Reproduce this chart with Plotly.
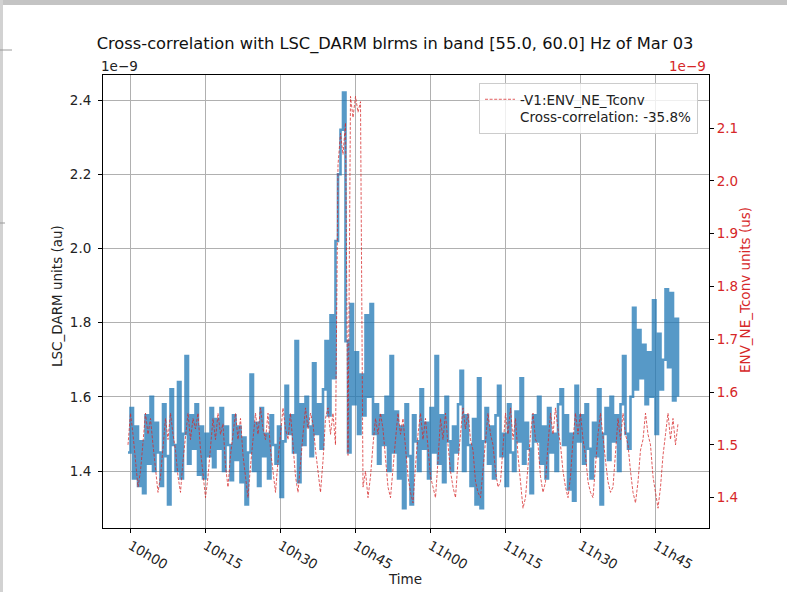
import pandas as pd
import plotly.graph_objects as go

# ---------------- data (values in units of 1e-9) ----------------
start_time = "2021-03-03 09:59:30"
sample_step = "30s"

darm_blrms = [
    1.45, 1.57, 1.38, 1.52, 1.36, 1.48, 1.34, 1.55, 1.42, 1.60,
    1.40, 1.53, 1.45, 1.36, 1.58, 1.44, 1.31, 1.62, 1.47, 1.40,
    1.64, 1.38, 1.50, 1.71, 1.42, 1.55, 1.46, 1.58, 1.39, 1.52,
    1.38, 1.50, 1.44, 1.57, 1.41, 1.54, 1.46, 1.57, 1.40, 1.52,
    1.47, 1.375, 1.55, 1.43, 1.52, 1.37, 1.49, 1.31, 1.45, 1.66,
    1.40, 1.53, 1.36, 1.57, 1.44, 1.50, 1.38, 1.55, 1.47, 1.42,
    1.52, 1.33, 1.48, 1.63, 1.50, 1.55, 1.45, 1.75, 1.37, 1.58,
    1.47, 1.60, 1.52, 1.44, 1.69, 1.50, 1.58, 1.46, 1.62, 1.75,
    1.55, 1.82, 1.65, 2.02, 2.20, 2.32, 2.42, 1.75, 1.45, 1.85,
    1.58, 1.72, 1.50, 1.66, 1.55, 1.82, 1.60, 1.85, 1.50, 1.58,
    1.42, 1.55, 1.47, 1.60, 1.40, 1.71, 1.45, 1.56, 1.38, 1.52,
    1.30, 1.58, 1.44, 1.31, 1.55, 1.48, 1.40, 1.62, 1.46, 1.53,
    1.38, 1.57, 1.45, 1.71, 1.42, 1.55, 1.37, 1.60, 1.48, 1.40,
    1.52, 1.45, 1.58, 1.67, 1.40, 1.55, 1.47, 1.36, 1.54, 1.31,
    1.65, 1.30, 1.48, 1.57, 1.42, 1.52, 1.38, 1.55, 1.63, 1.44,
    1.50, 1.36, 1.58, 1.45, 1.40, 1.56, 1.48, 1.65, 1.42, 1.53,
    1.46, 1.34, 1.55, 1.48, 1.60, 1.42, 1.52, 1.38, 1.57, 1.45,
    1.50, 1.40, 1.58, 1.62, 1.47, 1.55, 1.35, 1.50, 1.32, 1.63,
    1.48, 1.55, 1.42, 1.58, 1.46, 1.38, 1.53, 1.44, 1.62, 1.31,
    1.50, 1.57, 1.43, 1.60, 1.48, 1.55, 1.40, 1.58, 1.71, 1.50,
    1.46, 1.60, 1.84, 1.62, 1.78, 1.65, 1.74, 1.58, 1.72, 1.60,
    1.86, 1.50, 1.77, 1.62, 1.70, 1.89, 1.68, 1.88, 1.59, 1.81, 1.60,
]

env_tconv = [
    1.50, 1.56, 1.52, 1.47, 1.42, 1.45, 1.51, 1.56, 1.52, 1.55,
    1.50, 1.46, 1.41, 1.44, 1.49, 1.55, 1.51, 1.56, 1.52, 1.49,
    1.44, 1.41, 1.47, 1.52, 1.56, 1.51, 1.55, 1.53, 1.56, 1.49,
    1.44, 1.40, 1.44, 1.49, 1.55, 1.51, 1.56, 1.52, 1.54, 1.46,
    1.42, 1.48, 1.52, 1.56, 1.51, 1.55, 1.48, 1.44, 1.40, 1.46,
    1.51, 1.56, 1.52, 1.57, 1.53, 1.51, 1.56, 1.49, 1.45, 1.41,
    1.47, 1.52, 1.57, 1.53, 1.51, 1.56, 1.49, 1.44, 1.41, 1.47,
    1.52, 1.57, 1.53, 1.56, 1.54, 1.49, 1.45, 1.41, 1.47, 1.55,
    1.57, 1.52, 1.56, 1.50, 2.03, 2.09, 2.05, 2.11, 1.48, 2.16,
    2.12, 2.16, 2.13, 2.15, 1.42, 1.45, 1.40, 1.44, 1.50, 1.55,
    1.52, 1.56, 1.53, 1.47, 1.42, 1.40, 1.46, 1.51, 1.56, 1.52,
    1.55, 1.49, 1.44, 1.41, 1.39, 1.46, 1.52, 1.56, 1.51, 1.55,
    1.49, 1.44, 1.42, 1.40, 1.47, 1.55, 1.51, 1.56, 1.50, 1.45,
    1.42, 1.40, 1.47, 1.52, 1.57, 1.53, 1.56, 1.51, 1.49, 1.43,
    1.41, 1.40, 1.45, 1.51, 1.56, 1.52, 1.50, 1.45, 1.42, 1.43,
    1.50, 1.56, 1.52, 1.57, 1.51, 1.55, 1.48, 1.43, 1.38, 1.40,
    1.46, 1.52, 1.56, 1.51, 1.50, 1.44, 1.41, 1.43, 1.50, 1.56,
    1.52, 1.57, 1.53, 1.50, 1.45, 1.42, 1.40, 1.44, 1.51, 1.56,
    1.52, 1.56, 1.51, 1.48, 1.43, 1.41, 1.40, 1.46, 1.52, 1.56,
    1.51, 1.47, 1.43, 1.41, 1.42, 1.48, 1.55, 1.51, 1.56, 1.52,
    1.50, 1.45, 1.41, 1.39, 1.43, 1.49, 1.51, 1.56, 1.52, 1.50,
    1.44, 1.41, 1.38, 1.42, 1.48, 1.52, 1.56, 1.51, 1.55, 1.50, 1.54,
]

x_tick_times = ["10:00", "10:15", "10:30", "10:45", "11:00", "11:15", "11:30", "11:45"]
x_tick_labels = ["10h00", "10h15", "10h30", "10h45", "11h00", "11h15", "11h30", "11h45"]
left_ticks = [1.4, 1.6, 1.8, 2.0, 2.2, 2.4]
right_ticks = [1.4, 1.5, 1.6, 1.7, 1.8, 1.9, 2.0, 2.1]

title_text = "Cross-correlation with LSC_DARM blrms in band [55.0, 60.0] Hz of Mar 03"
legend_name = "-V1:ENV_NE_Tconv<br>Cross-correlation: -35.8%"

# ---------------- figure ----------------
times = pd.date_range(start_time, periods=len(darm_blrms), freq=sample_step)
day = "2021-03-03 "
RED = "#d62728"
FONT = "DejaVu Sans"
FS = 13.5

fig = go.Figure()
fig.add_trace(go.Scatter(
    x=times, y=darm_blrms, mode="lines", yaxis="y", showlegend=False,
    line=dict(color="rgba(31,119,180,0.75)", width=2.6, shape="hv"),
))
fig.add_trace(go.Scatter(
    x=times[:len(env_tconv)], y=env_tconv, mode="lines", yaxis="y2", name=legend_name,
    line=dict(color="rgba(214,39,40,0.75)", width=1, dash="3px,1.6px"),
))

W, H = 787, 592
L, R, T, B = 103, 709, 75, 528
pw, ph = R - L, B - T

def px(xp):
    return (xp - L) / pw

def py(yp):
    return (B - yp) / ph

fig.update_layout(
    width=W, height=H,
    margin=dict(l=L, r=W - R, t=T, b=H - B),
    paper_bgcolor="white", plot_bgcolor="white",
    font=dict(family=FONT, size=FS, color="#222"),
    title=dict(text=title_text, x=395 / W, xref="container", xanchor="center",
               y=1 - 43 / H, yref="container", yanchor="middle",
               font=dict(size=16.3, color="#111")),
    xaxis=dict(
        range=[day + "09:54:30", day + "11:55:42"],
        tickvals=[day + t for t in x_tick_times], ticktext=x_tick_labels,
        tickangle=30, ticks="outside", ticklen=4, tickcolor="black", tickwidth=0.8,
        showgrid=True, gridcolor="#b0b0b0", gridwidth=0.8,
        showline=True, linecolor="black", linewidth=1, mirror=True,
        zeroline=False, tickfont=dict(size=FS),
    ),
    yaxis=dict(
        range=[1.2464, 2.4674], tickvals=left_ticks, tickformat=".1f",
        ticks="outside", ticklen=4, tickcolor="black", tickwidth=0.8,
        showgrid=True, gridcolor="#b0b0b0", gridwidth=0.8,
        showline=True, linecolor="black", linewidth=1, mirror=True,
        zeroline=False, tickfont=dict(size=FS), ticklabelstandoff=4,
    ),
    yaxis2=dict(
        range=[1.3425, 2.2006], tickvals=right_ticks, tickformat=".1f",
        overlaying="y", side="right", anchor="x",
        ticks="outside", ticklen=4, tickcolor="black", tickwidth=0.8,
        showgrid=False, zeroline=False, showline=True, linecolor="black", linewidth=1,
        tickfont=dict(size=FS, color=RED),
    ),
    legend=dict(
        x=px(479), y=py(83), xanchor="left", yanchor="top", valign="top",
        bgcolor="rgba(255,255,255,0.8)", bordercolor="#cccccc", borderwidth=1,
        font=dict(size=FS, color="#222"),
    ),
)

annotations = [
    dict(text="1e\u22129", x=px(99), y=py(66), xanchor="left", yanchor="middle",
         font=dict(size=FS, color="#222")),
    dict(text="1e\u22129", x=px(708), y=py(66), xanchor="right", yanchor="middle",
         font=dict(size=FS, color=RED)),
    dict(text="LSC_DARM units (au)", x=px(57), y=py(296), textangle=-90,
         xanchor="center", yanchor="middle", font=dict(size=FS, color="#222")),
    dict(text="ENV_NE_Tconv units (us)", x=px(745), y=py(290), textangle=-90,
         xanchor="center", yanchor="middle", font=dict(size=FS, color=RED)),
    dict(text="Time", x=px(405), y=py(579), xanchor="center", yanchor="middle",
         font=dict(size=FS, color="#222")),
]
for a in annotations:
    a.update(xref="paper", yref="paper", showarrow=False)
fig.update_layout(annotations=annotations)

# screenshot window frame remnants
fig.add_shape(type="rect", xref="paper", yref="paper", x0=px(0), x1=px(W), y0=py(5), y1=py(0),
              fillcolor="#c4c4c4", line=dict(width=0), layer="above")
fig.add_shape(type="rect", xref="paper", yref="paper", x0=px(0), x1=px(3), y0=py(H), y1=py(0),
              fillcolor="#d2d2d2", line=dict(width=0), layer="above")
fig.add_shape(type="line", xref="paper", yref="paper", x0=px(0), x1=px(12), y0=py(50), y1=py(50),
              line=dict(color="#9a9a9a", width=1))
fig.add_shape(type="line", xref="paper", yref="paper", x0=px(0), x1=px(5), y0=py(223), y1=py(223),
              line=dict(color="#9a9a9a", width=1))

fig.write_html("out.html")
